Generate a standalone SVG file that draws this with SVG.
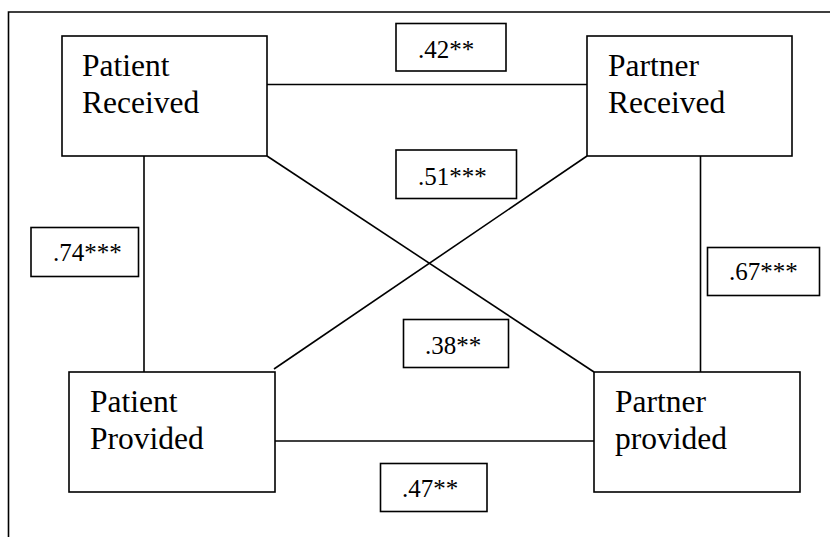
<svg xmlns="http://www.w3.org/2000/svg" width="830" height="537" viewBox="0 0 830 537">
<style>
.box{fill:#fff;stroke:#000;stroke-width:1.6}
.ln{stroke:#000;stroke-width:1.6;fill:none}
.nt{font-family:"Liberation Serif","Times New Roman",serif;font-size:31.5px;fill:#000}
.lt{font-family:"Liberation Serif","Times New Roman",serif;font-size:25px;fill:#000}
</style>
<rect width="830" height="537" fill="#fff"/>
<g id="frame">
<polyline class="ln" points="8.5,537 8.5,12 830,12"/>
</g>
<g id="connectors">
<line class="ln" x1="267" y1="84.5" x2="587" y2="84.5"/>
<line class="ln" x1="275" y1="441" x2="594" y2="441"/>
<line class="ln" x1="144" y1="156" x2="144" y2="372"/>
<line class="ln" x1="700.5" y1="156" x2="700.5" y2="372"/>
<line class="ln" x1="267" y1="156" x2="594" y2="372"/>
<line class="ln" x1="587" y1="156" x2="274" y2="369"/>
</g>
<g id="patient-received">
<rect class="box" x="62" y="36" width="205" height="120"/>
<text class="nt" x="82" y="76">Patient</text>
<text class="nt" x="82" y="113">Received</text>
</g>
<g id="partner-received">
<rect class="box" x="587" y="36" width="205" height="120"/>
<text class="nt" x="608" y="76">Partner</text>
<text class="nt" x="608" y="113">Received</text>
</g>
<g id="patient-provided">
<rect class="box" x="69" y="372" width="206" height="120"/>
<text class="nt" x="90" y="412">Patient</text>
<text class="nt" x="90" y="449">Provided</text>
</g>
<g id="partner-provided">
<rect class="box" x="594" y="372" width="206" height="120"/>
<text class="nt" x="615" y="412">Partner</text>
<text class="nt" x="615" y="449">provided</text>
</g>
<g id="label-42">
<rect class="box" x="396" y="23.5" width="110" height="47.5"/>
<text class="lt" x="418" y="58">.42**</text>
</g>
<g id="label-51">
<rect class="box" x="396" y="150" width="120.5" height="48.5"/>
<text class="lt" x="418" y="185">.51***</text>
</g>
<g id="label-74">
<rect class="box" x="31" y="227.5" width="107.5" height="49"/>
<text class="lt" x="53" y="261">.74***</text>
</g>
<g id="label-67">
<rect class="box" x="707.5" y="247.5" width="112" height="48"/>
<text class="lt" x="729" y="280">.67***</text>
</g>
<g id="label-38">
<rect class="box" x="403.5" y="319.5" width="105" height="48"/>
<text class="lt" x="425" y="354">.38**</text>
</g>
<g id="label-47">
<rect class="box" x="380.5" y="463.5" width="106.5" height="48"/>
<text class="lt" x="402" y="497">.47**</text>
</g>
</svg>
